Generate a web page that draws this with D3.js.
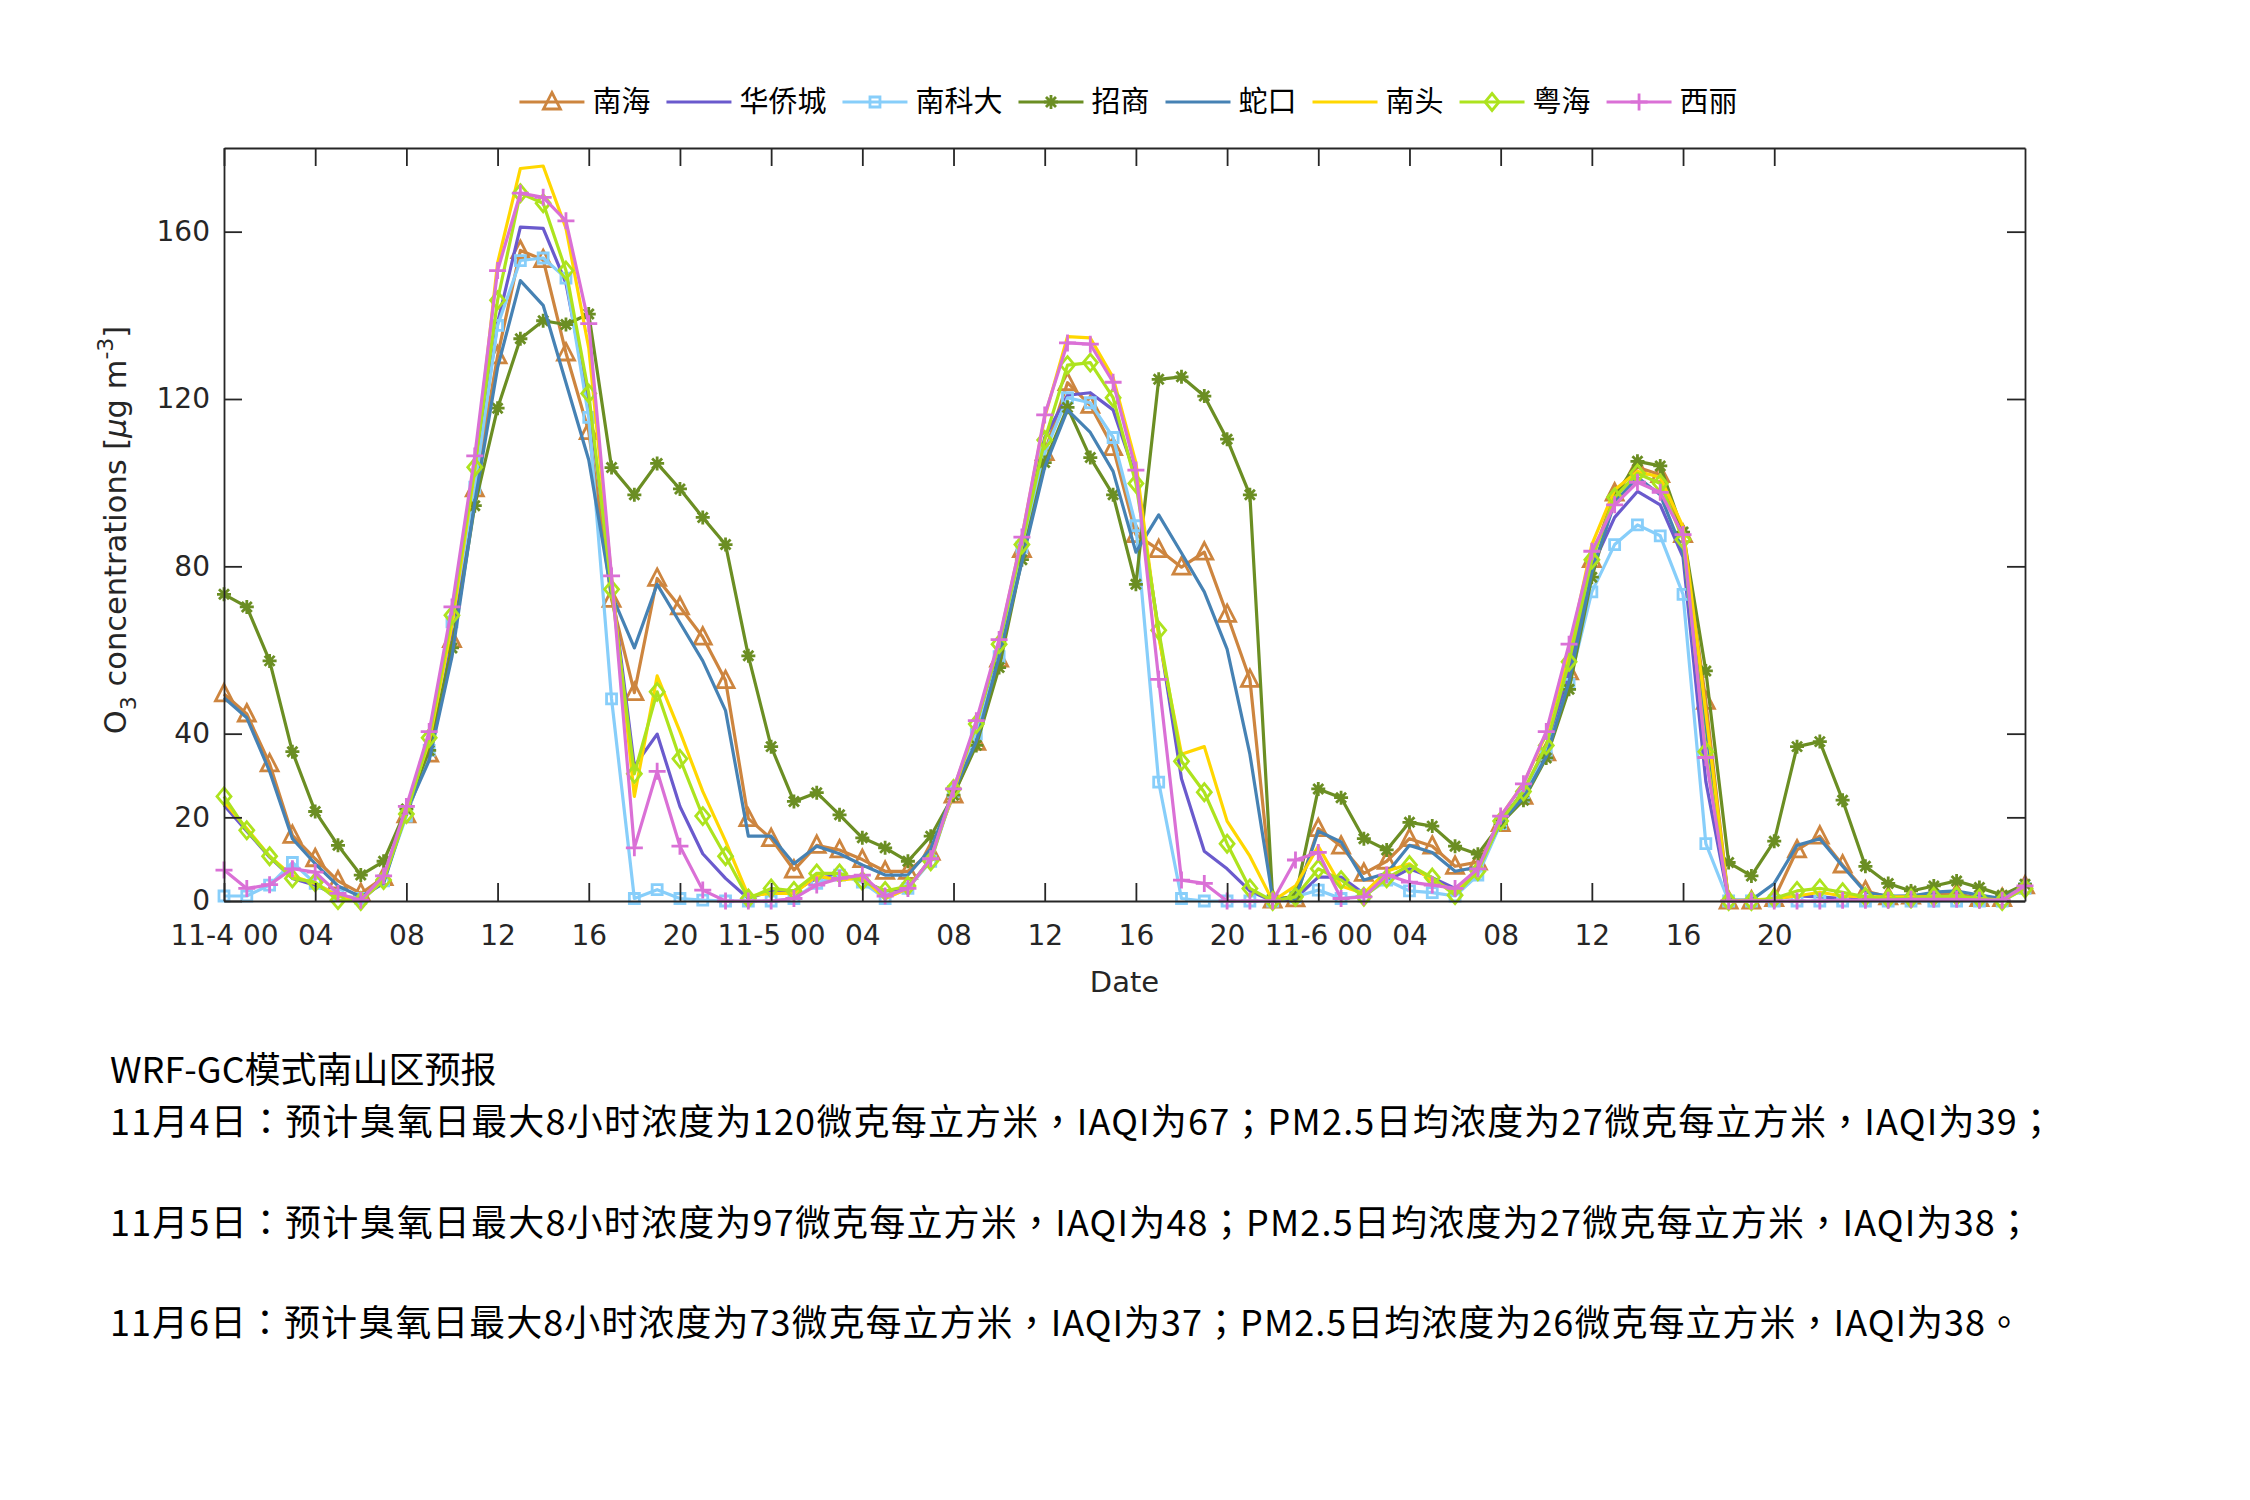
<!DOCTYPE html>
<html><head><meta charset="utf-8">
<script src="https://cdn.jsdelivr.net/npm/d3@7"></script>
<style>body{margin:0;background:#fff}</style>
</head><body>
<svg id="chart" width="2250" height="1500" xmlns="http://www.w3.org/2000/svg"></svg>
<script>
// ---------- data ----------
const hours = d3.range(0, 80); // hourly steps from 11-4 00
const xTickValues = [0,4,8,12,16,20,24,28,32,36,40,44,48,52,56,60,64,68];
const xTickLabels = ["11-4 00","04","08","12","16","20","11-5 00","04","08","12","16","20","11-6 00","04","08","12","16","20"];
const yTickValues = [0,20,40,80,120,160];
const stations = ["南海","华侨城","南科大","招商","蛇口","南头","粤海","西丽"];

const nanhai = [49.5,44.7,32.8,15.7,10.1,4.8,1.8,5.6,20.6,35.1,62.5,98.5,130.3,155.5,
  153.3,131.0,112.2,72.1,49.8,77.1,70.3,63.1,52.7,19.7,14.9,7.4,13.3,
  12.2,9.9,7.1,7.1,11.6,25.3,37.9,57.8,84.0,107.2,123.9,118.5,108.4,
  87.6,84.0,79.8,83.4,68.5,53.0,0.2,0.5,17.3,13.1,6.6,9.5,
  14.9,13.1,8.3,9.3,18.5,25.0,35.4,54.8,81.6,97.5,103.7,101.9,87.6,47.7,
  0,0,0.6,12.2,15.5,8.6,2.4,1.0,1.2,1.8,1.8,0.6,0.6,3.6];
const huaqiaocheng = [22.9,16.7,10.5,5.4,3.8,1.2,0.2,4.8,22.0,36.3,64.3,100.0,138.2,161.1,
  160.8,147.7,119.1,76.2,32.2,39.9,22.6,11.3,5.4,0.6,2.4,2.4,5.4,
  6.2,4.8,2.4,3.0,10.1,26.2,41.7,60.8,85.8,110.8,120.9,121.5,117.4,
  101.3,64.3,29.2,11.9,7.7,2.4,0,0.6,5.7,5.7,1.8,4.8,
  7.7,5.6,3.0,7.1,19.3,26.2,36.9,54.8,79.8,91.7,97.9,94.7,82.2,28.6,
  0,0,0.6,1.2,1.0,0.6,0.6,0.6,0.6,1.0,1.0,0.6,0.2,3.0];
const nankeda = [1.2,1.2,3.8,9.2,4.2,1.4,0.6,4.8,20.3,36.0,66.7,98.9,137.6,153.1,
  153.7,148.9,115.6,48.3,0.6,2.7,0.6,0.2,0,0,0,0.6,4.2,
  6.2,4.5,0.6,3.0,9.5,26.2,39.9,58.4,84.6,107.2,120.3,119.1,110.8,
  89.7,28.4,0.6,0,0,0,0,1.0,2.6,0.6,1.2,5.0,
  2.4,2.0,1.2,6.2,18.5,25.0,35.1,51.8,73.9,85.2,89.9,87.3,73.3,13.7,
  0,0,0,0,0,0,0,0,0,0,0,0,0,3.0];
const zhaoshang = [73.3,70.3,57.4,35.7,21.4,13.3,6.2,9.5,22.0,36.0,60.5,94.5,117.8,134.4,
  138.7,137.8,140.3,103.6,97.1,104.6,98.5,91.7,85.2,58.6,36.9,23.8,25.9,
  20.6,15.1,12.7,9.5,15.5,25.3,37.2,55.8,81.6,104.8,118.0,106.0,97.1,
  75.7,124.7,125.3,120.7,110.4,97.1,0.5,1.0,26.8,24.7,14.9,12.2,
  18.8,17.9,13.1,11.2,18.5,24.1,34.2,50.6,77.4,96.5,105.1,104.0,88.2,55.0,
  9.2,6.0,14.3,36.9,38.1,24.1,8.3,4.2,2.4,3.6,4.8,3.2,1.4,4.0];
const shekou = [48.6,43.8,31.0,14.9,8.9,3.6,1.0,4.2,21.4,33.6,58.4,95.3,127.5,148.3,
  142.4,123.9,105.4,73.3,60.5,75.7,66.5,57.4,45.5,15.5,15.5,8.9,13.1,
  11.3,8.6,6.2,6.2,12.5,26.2,38.1,58.4,81.0,103.7,117.4,112.0,102.7,
  83.4,92.3,83.2,73.9,60.2,35.1,0.6,0.6,16.7,14.1,5.0,6.6,
  13.3,11.6,7.1,8.1,18.7,24.7,34.5,52.4,78.6,95.3,101.3,97.1,83.4,41.7,
  0.2,0.2,4.2,13.3,14.9,8.3,2.1,1.2,1.2,2.1,2.4,1.4,0.6,3.6];
const nantou = [23.8,17.3,10.7,6.0,4.2,1.2,0.2,5.0,22.0,38.1,66.1,103.0,152.5,175.1,
  175.7,160.8,132.2,77.4,25.0,53.8,40.5,26.2,14.3,1.2,1.8,1.8,6.0,
  5.0,5.6,0.6,3.0,10.1,26.2,42.3,62.0,87.0,115.6,134.9,134.6,125.1,
  104.8,63.1,35.1,36.9,19.1,10.7,0,3.6,13.1,3.6,1.8,7.1,
  8.9,4.8,2.4,7.4,20.3,28.0,39.9,59.6,85.2,98.3,102.7,101.3,89.4,45.0,
  0,0.2,0.6,1.2,2.1,1.2,1.0,1.0,1.0,1.0,1.0,0.6,0.2,3.6];
const yuehai = [25.0,16.9,10.7,5.4,4.5,0.2,0,5.0,20.8,39.0,68.3,103.7,143.6,169.2,
  166.8,150.7,121.3,74.5,30.4,50.0,34.0,20.3,10.7,0.6,3.0,2.4,6.6,
  6.6,4.8,2.4,3.6,9.5,26.8,42.3,61.4,85.2,110.2,128.1,128.7,120.3,
  99.8,64.7,33.4,26.0,13.7,3.0,0,1.0,7.7,5.0,1.0,5.4,
  8.6,5.6,1.4,7.1,19.1,26.2,37.2,57.2,81.6,96.5,102.2,99.8,86.4,35.7,
  0,0,0.6,2.4,3.0,2.1,1.0,0.6,0.6,1.0,1.2,0.6,0,3.0];
const xili = [7.4,3.0,3.9,7.7,6.9,1.8,0.2,6.0,22.6,40.5,70.3,106.4,150.7,169.2,
  168.2,162.6,138.0,77.7,12.7,31.0,13.1,2.6,0,0,0,0.6,3.8,
  5.4,6.2,1.2,3.0,10.1,26.8,43.1,62.5,87.0,116.2,133.4,133.1,124.0,
  103.0,53.0,5.0,4.2,0,0,0,9.8,11.6,0.6,1.0,6.2,
  4.5,3.8,3.0,7.7,20.3,28.0,40.5,61.4,83.6,94.7,100.1,97.7,87.6,34.3,
  0,0,0,0,0,0.2,0.2,0.2,0.4,0.4,0.4,0.2,0.2,3.6];

const seriesValues = [nanhai, huaqiaocheng, nankeda, zhaoshang, shekou, nantou, yuehai, xili];
const colors = ["#CD853F","#6A5ACD","#87CEFA","#6B8E23","#4682B4","#FFD700","#ADE31E","#DA70D6"];
const markers = ["triangle","none","square","asterisk","none","none","diamond","plus"];

const textLines = [
  "WRF-GC模式南山区预报",
  "11月4日：预计臭氧日最大8小时浓度为120微克每立方米，IAQI为67；PM2.5日均浓度为27微克每立方米，IAQI为39；",
  "11月5日：预计臭氧日最大8小时浓度为97微克每立方米，IAQI为48；PM2.5日均浓度为27微克每立方米，IAQI为38；",
  "11月6日：预计臭氧日最大8小时浓度为73微克每立方米，IAQI为37；PM2.5日均浓度为26微克每立方米，IAQI为38。"
];

// ---------- layout ----------
const svg = d3.select("#chart");
svg.append("rect").attr("width",2250).attr("height",1500).attr("fill","#fff");
const L = 224, R = 2025, T = 148, B = 901;
const axisColor = "#262626";
const tickFont = "'DejaVu Sans','Noto Sans CJK SC',sans-serif";
const cjkFont = "'Noto Sans CJK SC','DejaVu Sans',sans-serif";
const noteFont = "'Noto Sans CJK TC','Noto Sans CJK SC',sans-serif";

const x = d3.scaleLinear().domain([0, 79]).range([L, R]);
const y = d3.scaleLinear().domain([0, 180]).range([B, T]);

function markerPath(type) {
  switch (type) {
    case "triangle": return "M0,-9.5L8.5,7L-8.5,7Z";
    case "square": return "M-5,-5L5,-5L5,5L-5,5Z";
    case "diamond": return "M0,-8.5L7,0L0,8.5L-7,0Z";
    case "plus": return "M-8.5,0L8.5,0M0,-8.5L0,8.5";
    case "asterisk": return "M-7,0L7,0M0,-7L0,7M-5,-5L5,5M-5,5L5,-5";
    default: return null;
  }
}

// ---------- plot ----------
const plot = svg.append("g");
const line = d3.line().x((d,i) => x(hours[i])).y(d => y(d));
stations.forEach((name, si) => {
  const g = plot.append("g");
  g.append("path").datum(seriesValues[si])
    .attr("d", line).attr("fill","none")
    .attr("stroke", colors[si]).attr("stroke-width", 3.2)
    .attr("stroke-linejoin","round");
  const mp = markerPath(markers[si]);
  if (mp) {
    g.selectAll("path.m").data(seriesValues[si]).join("path").attr("class","m")
      .attr("d", mp)
      .attr("transform", (d,i) => `translate(${x(hours[i])},${y(d)})`)
      .attr("fill","none").attr("stroke", colors[si]).attr("stroke-width", 2.8);
  }
});

// ---------- axes ----------
const xAxisB = d3.axisBottom(x).tickValues(xTickValues).tickSizeInner(-18).tickSizeOuter(0)
  .tickPadding(24).tickFormat((d,i) => xTickLabels[i]);
const gxb = svg.append("g").attr("transform", `translate(0,${B})`).call(xAxisB);
const xAxisT = d3.axisTop(x).tickValues(xTickValues).tickSizeInner(-18).tickSizeOuter(0).tickFormat("");
const gxt = svg.append("g").attr("transform", `translate(0,${T})`).call(xAxisT);
const yAxisL = d3.axisLeft(y).tickValues(yTickValues).tickSizeInner(-18).tickSizeOuter(0).tickPadding(14);
const gyl = svg.append("g").attr("transform", `translate(${L},0)`).call(yAxisL);
const yAxisR = d3.axisRight(y).tickValues(yTickValues).tickSizeInner(-18).tickSizeOuter(0).tickFormat("");
const gyr = svg.append("g").attr("transform", `translate(${R},0)`).call(yAxisR);
[gxb, gxt, gyl, gyr].forEach(g => {
  g.select(".domain").attr("stroke", axisColor).attr("stroke-width", 1.8);
  g.selectAll(".tick line").attr("stroke", axisColor).attr("stroke-width", 1.8);
  g.selectAll(".tick text").attr("fill", axisColor).style("font-family", tickFont).style("font-size","28px");
});

// y label
const yl = svg.append("text")
  .attr("transform", "translate(126,530) rotate(-90)")
  .attr("text-anchor","middle").attr("fill", axisColor)
  .style("font-family", tickFont).style("font-size","30.5px");
yl.append("tspan").text("O");
yl.append("tspan").attr("dy", 10).style("font-size","22px").text("3");
yl.append("tspan").attr("dy", -10).text(" concentrations [");
yl.append("tspan").style("font-style","italic").text("μ");
yl.append("tspan").text("g m");
yl.append("tspan").attr("dy", -13).style("font-size","22px").text("-3");
yl.append("tspan").attr("dy", 13).text("]");

// x label
svg.append("text").attr("x", (L+R)/2).attr("y", 992).attr("text-anchor","middle")
  .attr("fill", axisColor).style("font-family", tickFont).style("font-size","29px").text("Date");

// ---------- legend ----------
const leg = svg.append("g");
const lineLen = 65, gapText = 8, gapItem = 16, legY = 102;
let cx = 0;
const items = [];
stations.forEach((name, si) => {
  const g = leg.append("g");
  g.append("line").attr("x1", 0).attr("x2", lineLen).attr("y1", 0).attr("y2", 0)
    .attr("stroke", colors[si]).attr("stroke-width", 3.2);
  const mp = markerPath(markers[si]);
  if (mp) g.append("path").attr("d", mp).attr("transform", `translate(${lineLen/2},0)`)
    .attr("fill","none").attr("stroke", colors[si]).attr("stroke-width", 2.8);
  const t = g.append("text").attr("x", lineLen + gapText).attr("y", 0).attr("dy","0.35em")
    .attr("fill","#000").style("font-family", cjkFont).style("font-size","29px").text(name);
  const w = lineLen + gapText + t.node().getComputedTextLength();
  items.push({g, w});
});
const totalW = d3.sum(items, d => d.w) + gapItem * (items.length - 1);
cx = (L + R) / 2 - totalW / 2 + 4;
items.forEach(it => { it.g.attr("transform", `translate(${cx},${legY})`); cx += it.w + gapItem; });

// ---------- bottom text ----------
const textY = [1083, 1135, 1236, 1336];
const textLen = [null, 1944, 1922, 1912];
svg.append("g").selectAll("text").data(textLines).join("text")
  .attr("x", 110).attr("y", (d,i) => textY[i])
  .attr("fill","#000").style("font-family", noteFont).style("font-size","36px")
  .each(function(d,i){ if (textLen[i]) d3.select(this).attr("textLength", textLen[i]).attr("lengthAdjust","spacing"); })
  .text(d => d);
</script>
</body></html>
